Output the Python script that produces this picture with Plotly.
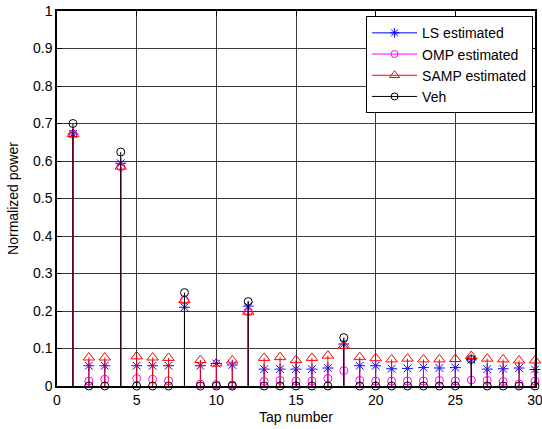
import plotly.graph_objects as go

taps = list(range(1, 31))
veh = [0.700, 0, 0, 0.624, 0, 0, 0, 0.249, 0, 0, 0, 0.225, 0, 0, 0, 0, 0, 0.129,
       0, 0, 0, 0, 0, 0, 0, 0.071, 0, 0, 0, 0]
ls_est = [0.672, 0.054, 0.054, 0.594, 0.054, 0.054, 0.054, 0.210, 0.054, 0.060,
          0.056, 0.213, 0.045, 0.045, 0.045, 0.045, 0.048, 0.112, 0.054, 0.054,
          0.046, 0.047, 0.049, 0.048, 0.049, 0.070, 0.045, 0.046, 0.048, 0.044]
omp_est = [0.672, 0.013, 0.018, 0.585, 0.020, 0.018, 0.014, 0.229, 0.005, 0.004,
           0.003, 0.198, 0.012, 0.015, 0.013, 0.013, 0.020, 0.041, 0.015, 0.013,
           0.013, 0.013, 0.013, 0.015, 0.013, 0.016, 0.015, 0.012, 0.005, 0.013]
samp_est = [0.672, 0.076, 0.076, 0.585, 0.079, 0.076, 0.075, 0.229, 0.069, 0.060,
            0.068, 0.198, 0.075, 0.077, 0.069, 0.075, 0.081, 0.107, 0.077, 0.074,
            0.071, 0.073, 0.071, 0.071, 0.072, 0.080, 0.073, 0.071, 0.068, 0.068]

x_ticks = [0, 5, 10, 15, 20, 25, 30]
y_ticks = [0, 0.1, 0.2, 0.3, 0.4, 0.5, 0.6, 0.7, 0.8, 0.9, 1]
y_tick_labels = ["0", "0.1", "0.2", "0.3", "0.4", "0.5", "0.6", "0.7", "0.8", "0.9", "1"]

series = [
    ("LS estimated", ls_est, "#0000ff", "asterisk-open", 9),
    ("OMP estimated", omp_est, "#ff00ff", "circle-open", 8),
    ("SAMP estimated", samp_est, "#ff0000", "triangle-up-open", 10),
    ("Veh", veh, "#000000", "circle-open", 8),
]

fig = go.Figure()
for name, vals, color, sym, size in series:
    sx, sy = [], []
    for t, v in zip(taps, vals):
        sx += [t, t, None]
        sy += [0, v, None]
    fig.add_trace(go.Scatter(x=sx, y=sy, mode="lines", line=dict(color=color, width=1),
                             showlegend=False, hoverinfo="skip"))
    fig.add_trace(go.Scatter(x=taps, y=vals, mode="markers", name=name, showlegend=False,
                             cliponaxis=False,
                             marker=dict(symbol=sym, size=size, color=color,
                                         line=dict(color=color, width=1))))

for name, vals, color, sym, size in series:
    fig.add_trace(go.Scatter(x=[None], y=[None], mode="lines+markers", name=name,
                             line=dict(color=color, width=1),
                             marker=dict(symbol=sym, size=size - 1, color=color,
                                         line=dict(color=color, width=1))))

font = "Liberation Sans, Arial, sans-serif"
fig.update_layout(
    width=542, height=429,
    margin=dict(l=57, r=7, t=11, b=43, autoexpand=False),
    paper_bgcolor="white", plot_bgcolor="white",
    font=dict(family=font, size=14, color="black"),
    showlegend=True,
    legend=dict(x=0.996, y=0.986, xanchor="right", yanchor="top",
                bgcolor="white", bordercolor="black", borderwidth=1,
                font=dict(size=14, family=font), tracegroupgap=0, itemwidth=45),
)
fig.update_xaxes(range=[0, 30], tickvals=x_ticks, ticks="inside", ticklen=5,
                 tickcolor="black", showline=True, linecolor="black", linewidth=1.5,
                 mirror="ticks", showgrid=True, gridcolor="#3a3a3a", gridwidth=1,
                 zeroline=False, automargin=False, ticklabeloverflow="allow",
                 title=dict(text="Tap number", standoff=6, font=dict(size=14)),
                 tickfont=dict(size=14))
fig.update_yaxes(range=[0, 1], tickvals=y_ticks, ticktext=y_tick_labels, ticks="inside",
                 ticklen=5, tickcolor="black", showline=True, linecolor="black",
                 linewidth=1.5, mirror="ticks", showgrid=True, gridcolor="#3a3a3a",
                 gridwidth=1, zeroline=False, automargin=False, ticklabeloverflow="allow",
                 title=dict(text="Normalized power", standoff=11, font=dict(size=14)),
                 tickfont=dict(size=14))

# remove the default 8px page margin so the 542x429 figure fills the window exactly
fig.write_html("out.html", config={"displayModeBar": False},
               post_script="document.body.style.margin='0';")
